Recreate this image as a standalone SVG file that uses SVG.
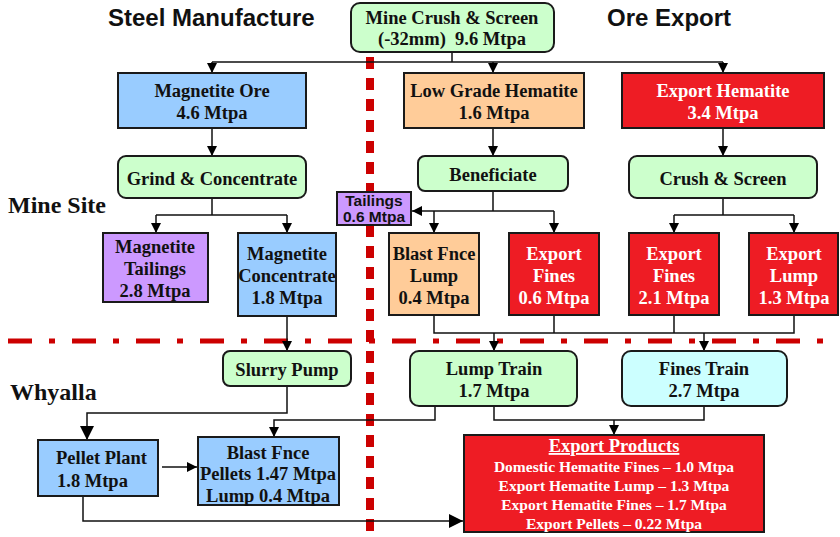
<svg xmlns="http://www.w3.org/2000/svg" width="840" height="537" viewBox="0 0 840 537">
<style>
.b{stroke:#1a1a1a;stroke-width:2}
.g{fill:#ccffcc}
.bl{fill:#99ccff}
.or{fill:#ffcc99}
.rd{fill:#ee1c24}
.pu{fill:#cc99ff}
.cy{fill:#ccffff}
text{font-family:"Liberation Serif","Times New Roman",serif;font-weight:bold;font-size:18.5px;text-anchor:middle;fill:#111}
.w{fill:#fff}
.t{font-family:"Liberation Sans",Arial,sans-serif;font-size:24px;text-anchor:start}
.s{font-size:24px;text-anchor:start}
.c{fill:none;stroke:#111;stroke-width:1.5}
.sm{font-size:15.5px}
.ss{font-family:"Liberation Sans",Arial,sans-serif;font-size:15.5px}
</style>
<defs>
<marker id="a" viewBox="0 0 10 10" refX="10" refY="5" markerWidth="10" markerHeight="10" markerUnits="userSpaceOnUse" orient="auto"><path d="M0,0L10,5L0,10z" fill="#000"/></marker>
<marker id="A" viewBox="0 0 10 10" refX="10" refY="5" markerWidth="14" markerHeight="14" markerUnits="userSpaceOnUse" orient="auto"><path d="M0,0L10,5L0,10z" fill="#000"/></marker>
</defs>
<g id="labels">
<text class="t" x="108" y="26">Steel Manufacture</text>
<text class="t" x="607" y="26">Ore Export</text>
<text class="s" x="8" y="213">Mine Site</text>
<text class="s" x="10" y="400">Whyalla</text>
</g>
<g id="dividers">
<line x1="8" y1="341" x2="840" y2="341" stroke="#cc0000" stroke-width="5" stroke-dasharray="24 17 6 17"/>
<line x1="370" y1="57" x2="370" y2="537" stroke="#cc0000" stroke-width="8" stroke-dasharray="12 9"/>
</g>
<g id="connectors">
<path class="c" d="M452,52V62M212,62H723"/>
<path class="c" d="M212,62V73" marker-end="url(#a)"/>
<path class="c" d="M493,62V73" marker-end="url(#a)"/>
<path class="c" d="M723,62V73" marker-end="url(#a)"/>
<path class="c" d="M212,128V156" marker-end="url(#a)"/>
<path class="c" d="M493,128V156" marker-end="url(#a)"/>
<path class="c" d="M723,128V156" marker-end="url(#a)"/>
<path class="c" d="M212,198V215M156,215H287"/>
<path class="c" d="M156,215V233" marker-end="url(#a)"/>
<path class="c" d="M287,215V233" marker-end="url(#a)"/>
<path class="c" d="M493,191V211M434,211H554"/>
<path class="c" d="M434,211H412" marker-end="url(#a)"/>
<path class="c" d="M434,211V233" marker-end="url(#a)"/>
<path class="c" d="M554,211V233" marker-end="url(#a)"/>
<path class="c" d="M723,198V215M674,215H794"/>
<path class="c" d="M674,215V233" marker-end="url(#a)"/>
<path class="c" d="M794,215V233" marker-end="url(#a)"/>
<path class="c" d="M434,315V333H794V315M554,315V333M674,315V333"/>
<path class="c" d="M494,333V351" marker-end="url(#a)"/>
<path class="c" d="M704,333V351" marker-end="url(#a)"/>
<path class="c" d="M287,316V351" marker-end="url(#a)"/>
<path class="c" d="M287,386V413H87V440" marker-end="url(#A)"/>
<path class="c" d="M162,467H197" marker-end="url(#a)"/>
<path class="c" d="M435,406V420H274V437" marker-end="url(#a)"/>
<path class="c" d="M494,406V420H704V406"/>
<path class="c" d="M614,420V435" marker-end="url(#a)"/>
<path class="c" d="M83,496V521H463" marker-end="url(#A)"/>
</g>
<g id="mine-crush">
<rect class="b g" x="351" y="3" width="203" height="49" rx="9"/>
<text x="452" y="24">Mine Crush &amp; Screen</text>
<text x="452" y="45">(-32mm)&#160; 9.6 Mtpa</text>
</g>
<g id="magnetite-ore">
<rect class="b bl" x="118" y="73" width="188" height="55"/>
<text x="212" y="97">Magnetite Ore</text>
<text x="212" y="119">4.6 Mtpa</text>
</g>
<g id="low-grade">
<rect class="b or" x="404" y="73" width="180" height="55"/>
<text x="494" y="97">Low Grade Hematite</text>
<text x="494" y="119">1.6 Mtpa</text>
</g>
<g id="export-hematite">
<rect class="b rd" x="622" y="73" width="202" height="55"/>
<text class="w" x="723" y="97">Export Hematite</text>
<text class="w" x="723" y="119">3.4 Mtpa</text>
</g>
<g id="grind">
<rect class="b g" x="118" y="156" width="188" height="42" rx="8"/>
<text x="212" y="185">Grind &amp; Concentrate</text>
</g>
<g id="beneficiate">
<rect class="b g" x="418" y="156" width="150" height="35" rx="7"/>
<text x="493" y="181">Beneficiate</text>
</g>
<g id="crush-screen">
<rect class="b g" x="629" y="156" width="188" height="42" rx="8"/>
<text x="723" y="185">Crush &amp; Screen</text>
</g>
<g id="mag-tailings">
<rect class="b pu" x="103" y="233" width="105" height="69"/>
<text x="155" y="253">Magnetite</text>
<text x="155" y="275">Tailings</text>
<text x="155" y="297">2.8 Mtpa</text>
</g>
<g id="mag-conc">
<rect class="b bl" x="238" y="233" width="98" height="83"/>
<text x="287" y="260">Magnetite</text>
<text x="287" y="282">Concentrate</text>
<text x="287" y="304">1.8 Mtpa</text>
</g>
<g id="tailings">
<rect class="b pu" x="337" y="192" width="74" height="33"/>
<text class="ss" x="374" y="206">Tailings</text>
<text class="ss" x="374" y="222">0.6 Mtpa</text>
</g>
<g id="bf-lump">
<rect class="b or" x="389" y="233" width="90" height="82"/>
<text x="434" y="260">Blast Fnce</text>
<text x="434" y="282">Lump</text>
<text x="434" y="304">0.4 Mtpa</text>
</g>
<g id="export-fines-06">
<rect class="b rd" x="509" y="233" width="90" height="82"/>
<text class="w" x="554" y="260">Export</text>
<text class="w" x="554" y="282">Fines</text>
<text class="w" x="554" y="304">0.6 Mtpa</text>
</g>
<g id="export-fines-21">
<rect class="b rd" x="629" y="233" width="90" height="82"/>
<text class="w" x="674" y="260">Export</text>
<text class="w" x="674" y="282">Fines</text>
<text class="w" x="674" y="304">2.1 Mtpa</text>
</g>
<g id="export-lump-13">
<rect class="b rd" x="749" y="233" width="89" height="82"/>
<text class="w" x="794" y="260">Export</text>
<text class="w" x="794" y="282">Lump</text>
<text class="w" x="794" y="304">1.3 Mtpa</text>
</g>
<g id="slurry">
<rect class="b g" x="223" y="351" width="128" height="35" rx="7"/>
<text x="287" y="376">Slurry Pump</text>
</g>
<g id="lump-train">
<rect class="b g" x="410" y="351" width="167" height="55" rx="9"/>
<text x="494" y="375">Lump Train</text>
<text x="494" y="397">1.7 Mtpa</text>
</g>
<g id="fines-train">
<rect class="b cy" x="622" y="351" width="165" height="55" rx="9"/>
<text x="704" y="375">Fines Train</text>
<text x="704" y="397">2.7 Mtpa</text>
</g>
<g id="pellet-plant">
<rect class="b bl" x="38" y="440" width="120" height="56"/>
<text x="56" y="464" style="text-anchor:start">Pellet Plant</text>
<text x="57" y="487" style="text-anchor:start">1.8 Mtpa</text>
</g>
<g id="bf-pellets">
<rect class="b bl" x="198" y="437" width="141" height="68"/>
<text x="268" y="459">Blast Fnce</text>
<text x="268" y="480">Pellets 1.47 Mtpa</text>
<text x="268" y="502">Lump 0.4 Mtpa</text>
</g>
<g id="export-products">
<rect class="b rd" x="464" y="435" width="300" height="97"/>
<text class="w" x="614" y="452" style="text-decoration:underline">Export Products</text>
<text class="w sm" x="614" y="472">Domestic Hematite Fines – 1.0 Mtpa</text>
<text class="w sm" x="614" y="491">Export Hematite Lump – 1.3 Mtpa</text>
<text class="w sm" x="614" y="510">Export Hematite Fines – 1.7 Mtpa</text>
<text class="w sm" x="614" y="529">Export Pellets – 0.22 Mtpa</text>
</g>
</svg>
